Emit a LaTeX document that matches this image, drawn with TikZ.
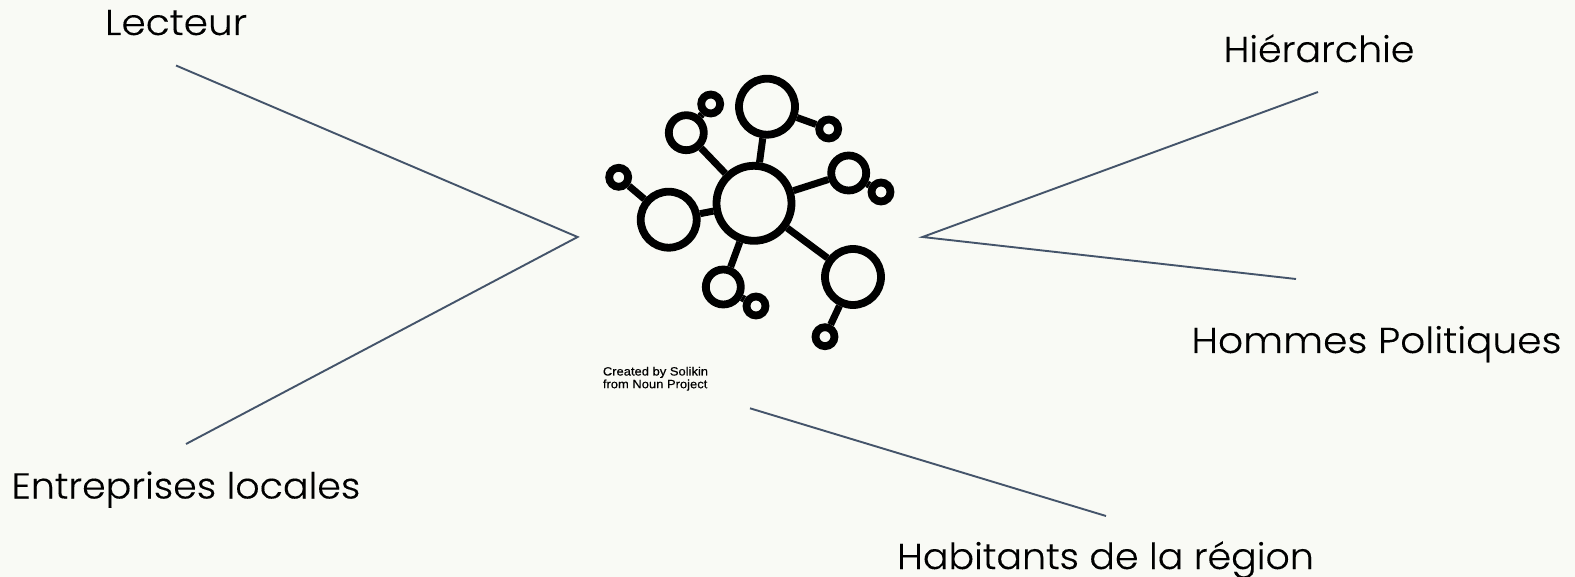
\documentclass[tikz,border=0pt]{standalone}
\usepackage{fontspec}
\setmainfont[UprightFont=* Light,FakeStretch=1.055,FakeBold=0.2]{Poppins}
\newfontfamily\creditfont[FakeStretch=1.08,FakeBold=0.35]{Liberation Sans}
\definecolor{bgc}{HTML}{F9FAF5}
\definecolor{linec}{HTML}{44546A}
\tikzset{
  x=1pt,y=-1pt,
  lbl/.style={anchor=base,inner sep=0pt,text=black,font=\fontsize{36}{40}\selectfont},
  credit/.style={anchor=base west,inner sep=0pt,text=black,font=\creditfont\fontsize{12}{13}\selectfont},
  spoke/.style={line width=1.9pt,draw=linec},
  big/.style={circle,draw=black,line width=7.8pt,inner sep=0pt,minimum size=56pt},
  huge/.style={circle,draw=black,line width=7.8pt,inner sep=0pt,minimum size=75pt},
  mid/.style={circle,draw=black,line width=7.8pt,inner sep=0pt,minimum size=35pt},
  tiny/.style={circle,draw=black,line width=7.8pt,inner sep=0pt,minimum size=19pt},
  link/.style={line width=7pt,draw=black},
}
\begin{document}
\begin{tikzpicture}
\useasboundingbox[fill=bgc] (0,0) rectangle (1575,577);
% icon
\node[huge] (hub) at (754,203.3) {};
\node[big] (b1) at (767,106.7) {};
\node[big] (b2) at (668.7,219.7) {};
\node[big] (b3) at (853,277) {};
\node[mid] (m1) at (686.3,132.7) {};
\node[mid] (m2) at (848.7,173) {};
\node[mid] (m3) at (723.3,287) {};
\node[tiny] (t1) at (710.7,104) {};
\node[tiny] (t2) at (828.7,129) {};
\node[tiny] (t3) at (881,192) {};
\node[tiny] (t4) at (618.7,177.3) {};
\node[tiny] (t5) at (756,306) {};
\node[tiny] (t6) at (825,336.7) {};
\foreach \a/\b in {hub/b1,hub/b2,hub/b3,hub/m1,hub/m2,hub/m3,b1/t2,b2/t4,b3/t6,m1/t1,m2/t3,m3/t5}
  \draw[link] (\a) -- (\b);
% credit
\node[credit] (c1) at (602.7,375.5) {Created by Solikin};
\node[credit] (c2) at (602.7,388.2) {from Noun Project};
% labels
\node[lbl] (lecteur) at (176,35) {\scalebox{1.03}[1]{Lecteur}};
\node[lbl] (hier) at (1319,62) {Hiérarchie};
\node[lbl] (homme) at (1376.5,353) {\scalebox{1.03}[1]{Hommes Politiques}};
\node[lbl] (entre) at (186,498.5) {Entreprises locales};
\node[lbl] (habit) at (1105.5,569) {Habitants de la région};
% spokes
\coordinate (apexL) at (577.6,237);
\coordinate (apexR) at (922.5,237);
\coordinate (endL1) at (176,65.5);
\coordinate (endL2) at (186,444);
\coordinate (endR1) at (1318,92);
\coordinate (endR2) at (1296,279);
\coordinate (endB1) at (750,408.3);
\coordinate (endB2) at (1106,516);
\draw[spoke] (endL1) -- (apexL) -- (endL2);
\draw[spoke] (endR1) -- (apexR) -- (endR2);
\draw[spoke] (endB1) -- (endB2);
\end{tikzpicture}
\end{document}
